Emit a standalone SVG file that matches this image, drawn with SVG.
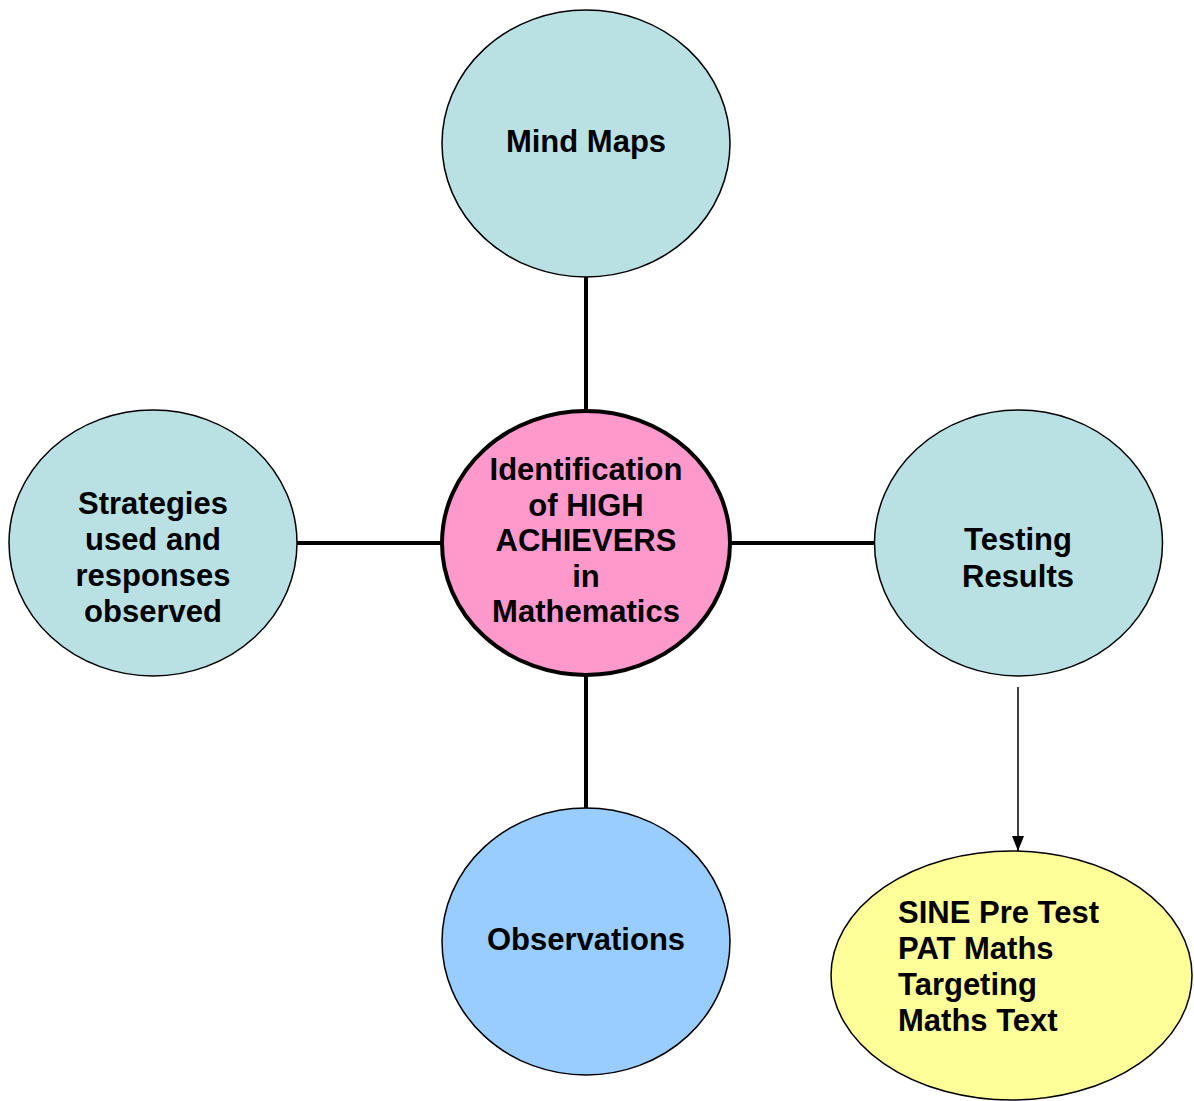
<svg xmlns="http://www.w3.org/2000/svg" width="1194" height="1101" viewBox="0 0 1194 1101">
<style>
.n{stroke:#000;stroke-width:1.5}
.t{font-family:"Liberation Sans",Arial,sans-serif;font-weight:bold;font-size:31px;fill:#000;text-anchor:middle}
.l{text-anchor:start}
.c{stroke:#000;stroke-width:4;fill:none}
</style>
<defs>
<marker id="ah" viewBox="0 0 15 12" refX="15" refY="6" markerWidth="15" markerHeight="12" markerUnits="userSpaceOnUse" orient="auto">
<path d="M0,0 L15,6 L0,12 Z" fill="#000"/>
</marker>
</defs>
<rect width="1194" height="1101" fill="#fff"/>
<g id="connectors">
<line class="c" x1="586" y1="277" x2="586" y2="410"/>
<line class="c" x1="586" y1="676" x2="586" y2="808"/>
<line class="c" x1="297" y1="543" x2="442" y2="543"/>
<line class="c" x1="730" y1="543" x2="875" y2="543"/>
<line x1="1018" y1="687" x2="1018" y2="851" stroke="#000" stroke-width="1.5" marker-end="url(#ah)"/>
</g>
<g id="mind-maps">
<ellipse class="n" cx="586" cy="143.5" rx="144" ry="133.5" fill="#B9E0E3"/>
<text class="t" x="586" y="152">Mind Maps</text>
</g>
<g id="center">
<ellipse cx="586" cy="543" rx="144" ry="132" fill="#FF99CC" stroke="#000" stroke-width="4"/>
<text class="t" x="586" y="480">Identification</text>
<text class="t" x="586" y="515.5">of HIGH</text>
<text class="t" x="586" y="551">ACHIEVERS</text>
<text class="t" x="586" y="586.5">in</text>
<text class="t" x="586" y="622">Mathematics</text>
</g>
<g id="strategies">
<ellipse class="n" cx="153" cy="543" rx="144" ry="133" fill="#B9E0E3"/>
<text class="t" x="153" y="514">Strategies</text>
<text class="t" x="153" y="550">used and</text>
<text class="t" x="153" y="586">responses</text>
<text class="t" x="153" y="622">observed</text>
</g>
<g id="testing">
<ellipse class="n" cx="1018.5" cy="543" rx="144" ry="133" fill="#B9E0E3"/>
<text class="t" x="1018" y="550">Testing</text>
<text class="t" x="1018" y="587">Results</text>
</g>
<g id="observations">
<ellipse class="n" cx="586" cy="941.5" rx="144" ry="133.5" fill="#99CCFF"/>
<text class="t" x="586" y="950">Observations</text>
</g>
<g id="tests">
<ellipse class="n" cx="1011.5" cy="975.5" rx="180.5" ry="124.5" fill="#FFFF99"/>
<text class="t l" x="898" y="923">SINE Pre Test</text>
<text class="t l" x="898" y="959">PAT Maths</text>
<text class="t l" x="898" y="995">Targeting</text>
<text class="t l" x="898" y="1031">Maths Text</text>
</g>
</svg>
